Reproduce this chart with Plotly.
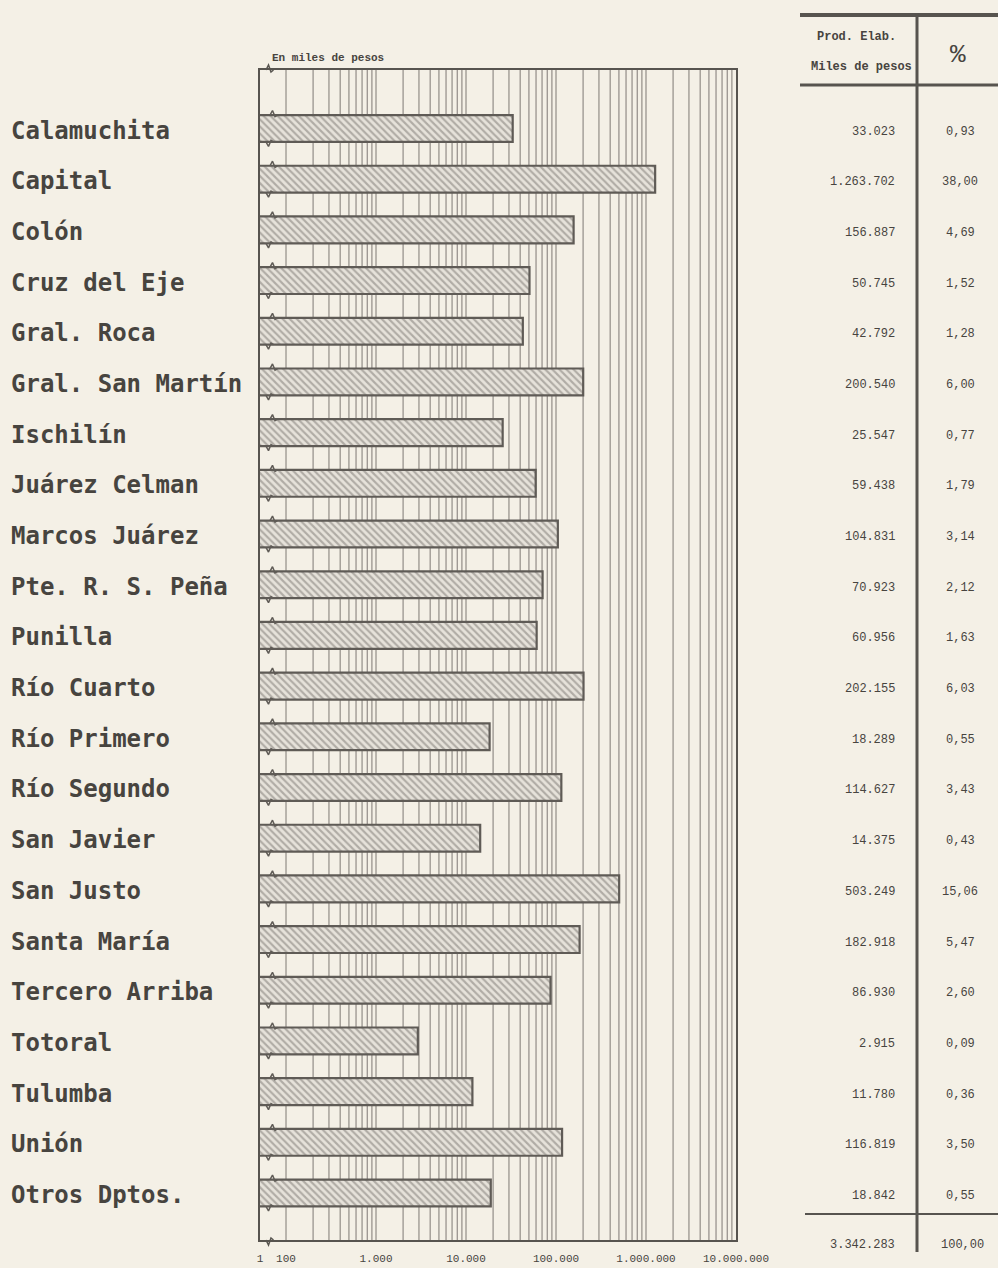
import math
import plotly.graph_objects as go

# ---- data ----
departamentos = ["Calamuchita", "Capital", "Colón", "Cruz del Eje", "Gral. Roca",
                 "Gral. San Martín", "Ischilín", "Juárez Celman", "Marcos Juárez",
                 "Pte. R. S. Peña", "Punilla", "Río Cuarto", "Río Primero",
                 "Río Segundo", "San Javier", "San Justo", "Santa María",
                 "Tercero Arriba", "Totoral", "Tulumba", "Unión", "Otros Dptos."]
prod_miles = [33023, 1263702, 156887, 50745, 42792, 200540, 25547, 59438, 104831,
              70923, 60956, 202155, 18289, 114627, 14375, 503249, 182918, 86930,
              2915, 11780, 116819, 18842]
prod_txt = ["33.023", "1.263.702", "156.887", "50.745", "42.792", "200.540", "25.547",
            "59.438", "104.831", "70.923", "60.956", "202.155", "18.289", "114.627",
            "14.375", "503.249", "182.918", "86.930", "2.915", "11.780", "116.819", "18.842"]
pct_txt = ["0,93", "38,00", "4,69", "1,52", "1,28", "6,00", "0,77", "1,79", "3,14",
           "2,12", "1,63", "6,03", "0,55", "3,43", "0,43", "15,06", "5,47", "2,60",
           "0,09", "0,36", "3,50", "0,55"]
total_txt = "3.342.283"
total_pct = "100,00"
axis_min = 51.4          # broken axis: left edge is labelled "1"
axis_max = 10000000
tick_vals = [axis_min, 100, 1000, 10000, 100000, 1000000, 10000000]
tick_text = ["1", "100", "1.000", "10.000", "100.000", "1.000.000", "10.000.000"]
grid_decades = [100, 1000, 10000, 100000, 1000000]
grid_digits = [1, 2, 3, 4, 5, 6, 7, 8, 9]

# ---- geometry (screen pixels) ----
W, H = 998, 1268
L, R, T, B = 260, 736, 70, 1240          # plot area
pw, ph = R - L, B - T


def px(x):
    return (x - L) / pw


def py(y):
    return (B - y) / ph


BG = "#f4f0e6"
INK = "#47443f"
GRID = "#99948e"
RULE = "#57544f"
BAR_EDGE = "#5f5b56"
MONO = "Liberation Mono"

lo, hi = math.log10(axis_min), math.log10(axis_max)
per_px = (hi - lo) / pw

fig = go.Figure()
fig.add_trace(go.Bar(
    y=departamentos, x=prod_miles, orientation="h",
    marker=dict(color="#e3dfd7",
                line=dict(color=BAR_EDGE, width=2.2),
                pattern=dict(shape="\\", fgcolor="#7a7570", bgcolor="#e6e2da",
                             size=5, solidity=0.42)),
    width=0.53, showlegend=False, hoverinfo="x+y",
))

# break marks (small zig-zag) on each bar's top and bottom edges near the axis break
bx, by = [], []
half = 0.265
for i in range(len(departamentos)):
    for edge, sgn, x0 in ((i - half, -1, 270), (i + half, 1, 266)):
        xs = [x0, x0 + 2.5, x0 + 5, x0 + 7.5]
        ys = [edge, edge + sgn * 0.09, edge - sgn * 0.03, edge]
        bx += [10 ** (lo + (v - L) * per_px) for v in xs] + [None]
        by += ys + [None]
fig.add_trace(go.Scatter(x=bx, y=by, yaxis="y2", mode="lines",
                         line=dict(color=BAR_EDGE, width=1.5),
                         hoverinfo="skip", showlegend=False))

annotations = []
for d in departamentos:
    annotations.append(dict(xref="paper", yref="y", x=px(9), y=d, text="<b>%s</b>" % d,
                            xanchor="left", yanchor="middle", showarrow=False, yshift=-2,
                            font=dict(family="DejaVu Sans Mono", size=24, color=INK)))
for d, v, p in zip(departamentos, prod_txt, pct_txt):
    annotations.append(dict(xref="paper", yref="y", x=px(897), y=d, text=v,
                            xanchor="right", yanchor="middle", showarrow=False, yshift=-3,
                            font=dict(family=MONO, size=12, color=INK)))
    annotations.append(dict(xref="paper", yref="y", x=px(960), y=d, text=p,
                            xanchor="center", yanchor="middle", showarrow=False, yshift=-3,
                            font=dict(family=MONO, size=12, color=INK)))
annotations += [
    dict(xref="paper", yref="paper", x=px(897), y=py(1245), text=total_txt,
         xanchor="right", yanchor="middle", showarrow=False,
         font=dict(family=MONO, size=12, color=INK)),
    dict(xref="paper", yref="paper", x=px(962), y=py(1245), text=total_pct,
         xanchor="center", yanchor="middle", showarrow=False,
         font=dict(family=MONO, size=12, color=INK)),
    dict(xref="paper", yref="paper", x=px(856), y=py(37), text="<b>Prod. Elab.</b>",
         xanchor="center", yanchor="middle", showarrow=False,
         font=dict(family=MONO, size=12, color=INK)),
    dict(xref="paper", yref="paper", x=px(861), y=py(67), text="<b>Miles de pesos</b>",
         xanchor="center", yanchor="middle", showarrow=False,
         font=dict(family=MONO, size=12, color=INK)),
    dict(xref="paper", yref="paper", x=px(958), y=py(55), text="%",
         xanchor="center", yanchor="middle", showarrow=False,
         font=dict(family=MONO, size=26, color=INK)),
    dict(xref="paper", yref="paper", x=px(270), y=py(58), text="<b>En miles de pesos</b>",
         xanchor="left", yanchor="middle", showarrow=False,
         font=dict(family=MONO, size=11, color=INK)),
]

shapes = []
# log gridlines (shapes take raw data values on a log axis)
for dec in grid_decades:
    for k in grid_digits:
        v = dec * k
        shapes.append(dict(type="line", xref="x", yref="paper", x0=v, x1=v, y0=0, y1=1,
                           layer="below", line=dict(color=GRID, width=1.3)))
# axis-break zig-zags on the frame (top and bottom)
for yy, s in ((T, -1), (B, 1)):
    shapes.append(dict(type="path", xref="paper", yref="paper",
                       path="M %f %f L %f %f L %f %f L %f %f" % (
                           px(266), py(yy), px(268.5), py(yy + s * 5),
                           px(271), py(yy - s * 2), px(273.5), py(yy)),
                       line=dict(color=RULE, width=1.5)))
# table rules
shapes += [
    dict(type="line", xref="paper", yref="paper", x0=px(800), x1=px(998), y0=py(15), y1=py(15),
         line=dict(color=RULE, width=4)),
    dict(type="line", xref="paper", yref="paper", x0=px(800), x1=px(998), y0=py(85), y1=py(85),
         line=dict(color=RULE, width=3)),
    dict(type="line", xref="paper", yref="paper", x0=px(917), x1=px(917), y0=py(13), y1=py(1252),
         line=dict(color=RULE, width=3)),
    dict(type="line", xref="paper", yref="paper", x0=px(805), x1=px(998), y0=py(1214), y1=py(1214),
         line=dict(color=RULE, width=2)),
]

yrange = [21.927, -1.154]
fig.update_layout(
    width=W, height=H,
    margin=dict(l=L, r=W - R, t=T, b=H - B, autoexpand=False),
    paper_bgcolor=BG, plot_bgcolor="rgba(0,0,0,0)",
    xaxis=dict(type="log", range=[lo, hi], tickvals=tick_vals, ticktext=tick_text,
               showgrid=False, automargin=False,
               showline=True, linecolor=RULE, linewidth=2, mirror=True,
               ticks="", ticklabelstandoff=7,
               tickfont=dict(family=MONO, size=11, color=INK),
               zeroline=False, fixedrange=True),
    yaxis=dict(type="category", categoryorder="array", categoryarray=departamentos,
               range=yrange, showticklabels=False, showgrid=False, automargin=False,
               showline=True, linecolor=RULE, linewidth=2, mirror=True,
               ticks="", zeroline=False),
    yaxis2=dict(overlaying="y", range=yrange, visible=False, showgrid=False, zeroline=False),
    annotations=annotations, shapes=shapes,
)

fig.write_html("out.html", config={"displayModeBar": False},
               post_script="document.body.style.margin='0';document.body.style.overflow='hidden';")
